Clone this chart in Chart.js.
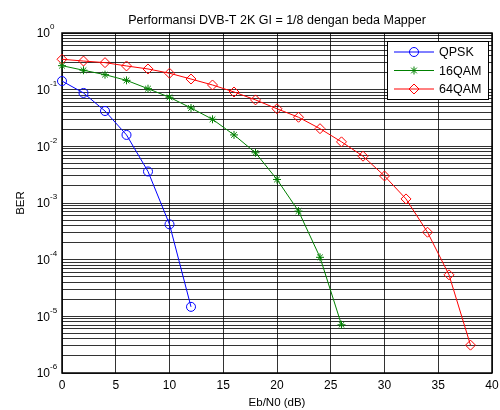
<!DOCTYPE html>
<html>
<head>
<meta charset="utf-8">
<script src="https://cdn.jsdelivr.net/npm/chart.js@4/dist/chart.umd.min.js"></script>
<style>
  body { margin: 0; background: #fff; }
  #wrap { width: 500px; height: 410px; }
</style>
</head>
<body>
<div id="wrap"><canvas id="c" width="500" height="410"></canvas></div>
<script>
// data
const qpskEbN0 = [0, 2, 4, 6, 8, 10, 12]
const qpskBer = [0.142, 0.0875, 0.042, 0.0159, 0.0036, 4.2e-4, 1.47e-5]

const qam16EbN0 = [0, 2, 4, 6, 8, 10, 12, 14, 16, 18, 20, 22, 24, 26]
const qam16Ber = [0.265, 0.22, 0.184, 0.146, 0.104, 0.0734, 0.0475, 0.030, 0.0159, 0.0077, 0.0026, 7.2e-4, 1.1e-4, 7.1e-6]

const qam64EbN0 = [0, 2, 4, 6, 8, 10, 12, 14, 16, 18, 20, 22, 24, 26, 28, 30, 32, 34, 36, 38]
const qam64Ber = [0.344, 0.32, 0.30, 0.262, 0.232, 0.195, 0.154, 0.121, 0.091, 0.066, 0.046, 0.0326, 0.0205, 0.012, 0.0067, 0.0030, 0.00118, 3.05e-4, 5.4e-5, 3.1e-6]

const xTicks = [0, 5, 10, 15, 20, 25, 30, 35, 40]
const yExponents = [0, -1, -2, -3, -4, -5, -6]

const FONT = '"Liberation Sans", Arial, sans-serif'

function toPoints(xs, ys){
  return xs.map((x, i) => ({ x, y: ys[i] }))
}

const series = [
  { label: 'QPSK', xs: qpskEbN0, ys: qpskBer, color: '#0000ff', style: 'circle', r: 4.5 },
  { label: '16QAM', xs: qam16EbN0, ys: qam16Ber, color: '#008000', style: 'star', r: 4 },
  { label: '64QAM', xs: qam64EbN0, ys: qam64Ber, color: '#ff0000', style: 'rectRot', r: 5 },
]

// 標籤、外框、圖例都自己畫
const matlabLook = {
  id: 'matlabLook',
  beforeDatasetsDraw(chart){
    const { ctx, chartArea: a } = chart
    ctx.save()
    ctx.strokeStyle = '#000'
    ctx.lineWidth = 1.5
    ctx.strokeRect(a.left, a.top, a.right - a.left, a.bottom - a.top)
    ctx.restore()
  },
  afterDatasetsDraw(chart){
    const { ctx, chartArea: a } = chart
    const xs = chart.scales.x, ys = chart.scales.y
    ctx.save()
    ctx.fillStyle = '#000'
    // x tick labels
    ctx.font = '12px ' + FONT
    ctx.textAlign = 'center'
    ctx.textBaseline = 'middle'
    xTicks.forEach(v => ctx.fillText(String(v), xs.getPixelForValue(v), a.bottom + 13))

    // y tick labels 10^n
    yExponents.forEach(e => {
      const y = ys.getPixelForValue(Math.pow(10, e))
      ctx.font = '12px ' + FONT
      ctx.textAlign = 'right'
      ctx.textBaseline = 'middle'
      ctx.fillText('10', a.left - 12, y + 1)
      ctx.font = '8px ' + FONT
      ctx.textAlign = 'left'
      ctx.fillText(String(e), a.left - 12, y - 6)
    })

    // title + axis titles
    ctx.font = '12.5px ' + FONT
    ctx.textAlign = 'center'
    ctx.textBaseline = 'middle'
    ctx.fillText('Performansi DVB-T 2K GI = 1/8 dengan beda Mapper', (a.left + a.right) / 2, 21)
    ctx.font = '11.5px ' + FONT
    ctx.fillText('Eb/N0 (dB)', (a.left + a.right) / 2, a.bottom + 30)
    ctx.translate(21, (a.top + a.bottom) / 2)
    ctx.rotate(-Math.PI / 2)
    ctx.fillText('BER', 0, 0)
    ctx.restore()

    // legend
    ctx.save()
    const lx = 387, ly = 41, lw = 101, lh = 58
    ctx.fillStyle = '#fff'
    ctx.fillRect(lx, ly, lw, lh)
    ctx.strokeStyle = '#000'
    ctx.lineWidth = 1
    ctx.strokeRect(lx + 0.5, ly + 0.5, lw, lh)
    series.forEach((s, i) => {
      const y = 52 + i * 18.5
      ctx.strokeStyle = s.color
      ctx.lineWidth = 1
      ctx.beginPath()
      ctx.moveTo(394, y)
      ctx.lineTo(434, y)
      ctx.stroke()
      ctx.fillStyle = 'rgba(0,0,0,0)'
      Chart.helpers.drawPoint(ctx, { pointStyle: s.style, radius: s.r, rotation: 0, borderWidth: 1 }, 414, y)
      ctx.fillStyle = '#000'
      ctx.font = '12.5px ' + FONT
      ctx.textAlign = 'left'
      ctx.textBaseline = 'middle'
      ctx.fillText(s.label, 439, y + 1)
    })
    ctx.restore()
  }
}

const gridColor = 'rgba(0,0,0,0.8)'

new Chart(document.getElementById('c'), {
  type: 'line',
  data: {
    datasets: series.map(s => ({
      label: s.label,
      data: toPoints(s.xs, s.ys),
      borderColor: s.color,
      backgroundColor: 'rgba(0,0,0,0)',
      borderWidth: 1,
      pointStyle: s.style,
      pointRadius: s.r,
      pointBorderWidth: 1,
      pointBackgroundColor: 'rgba(0,0,0,0)',
      pointBorderColor: s.color,
      tension: 0,
      clip: false,
    }))
  },
  options: {
    responsive: false,
    animation: false,
    events: [],
    layout: { padding: { left: 62, right: 8, top: 33, bottom: 37 } },
    plugins: { legend: { display: false }, tooltip: { enabled: false } },
    scales: {
      x: {
        type: 'linear',
        min: 0, max: 40,
        afterBuildTicks: s => { s.ticks = xTicks.map(v => ({ value: v })) },
        ticks: { display: false },
        grid: { color: gridColor, lineWidth: 1, drawTicks: false },
        border: { display: false }
      },
      y: {
        type: 'logarithmic',
        min: 1e-6, max: 1,
        afterBuildTicks: s => {
          const t = []
          for (let e = -6; e < 0; e++) {
            for (let m = 1; m < 10; m++) t.push({ value: m * Math.pow(10, e) })
          }
          t.push({ value: 1 })
          s.ticks = t
        },
        ticks: { display: false },
        grid: { color: gridColor, lineWidth: 1, drawTicks: false },
        border: { display: false }
      }
    }
  },
  plugins: [matlabLook]
})
</script>
</body>
</html>
